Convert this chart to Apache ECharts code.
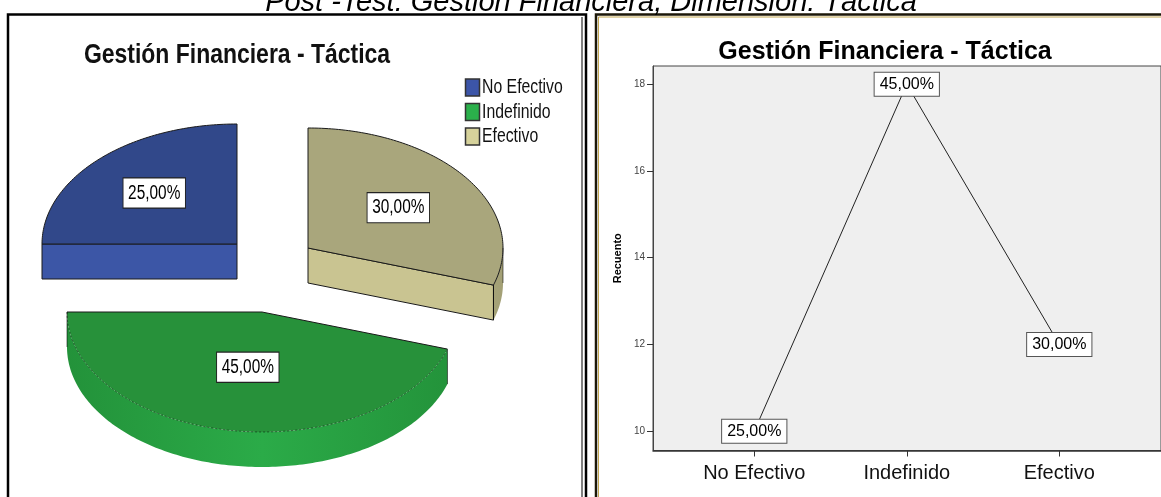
<!DOCTYPE html>
<html>
<head>
<meta charset="utf-8">
<script src="https://cdn.jsdelivr.net/npm/echarts@6/dist/echarts.min.js"></script>
<style>
  html, body { margin: 0; padding: 0; background: #fff; }
  #chart { width: 1161px; height: 497px; }
</style>
</head>
<body>
<div id="chart"></div>
<script>
// ---- data ----
const categories = ['No Efectivo', 'Indefinido', 'Efectivo'];
const counts = [10, 18, 12];
const yTickValues = [10, 12, 14, 16, 18];
const mainTitle = 'Post -Test: Gestión Financiera, Dimensión: Táctica';
const chartTitle = 'Gestión Financiera - Táctica';
const yAxisName = 'Recuento';

const total = counts.reduce((a, b) => a + b, 0);
const percents = counts.map(c => c / total * 100);
const fmtPct = p => p.toFixed(2).replace('.', ',') + '%';

// ---- styling ----
const FONT = "'Liberation Sans', Arial, Helvetica, sans-serif";
const slicePalette = [
  { top: '#31488a', face: '#3c56a6', wallEdge: '#34499a', wallMid: '#3c56a6', swatch: '#3c55a8' },
  { top: '#27913a', face: '#2aa545', wallEdge: '#23923a', wallMid: '#2bab48', swatch: '#2bb04b' },
  { top: '#a9a67c', face: '#c9c491', wallEdge: '#a3a076', wallMid: '#c9c491', swatch: '#d6d29b' }
];

// 3D pie geometry (layout only)
const pie = {
  cx: 270, cy: 265, rx: 195, ry: 120, depth: 35, startAngle: 90,
  explode: [[-33, -21], [-8, 47], [38, -17]]
};

const sliceStart = [];
{
  let a = pie.startAngle;
  percents.forEach(p => { sliceStart.push(a); a += p * 3.6; });
}

function rim(cx, cy, deg) {
  const r = deg * Math.PI / 180;
  return [cx + pie.rx * Math.cos(r), cy - pie.ry * Math.sin(r)];
}
function arc(cx, cy, a0, a1) {
  const n = Math.max(2, Math.ceil(Math.abs(a1 - a0)));
  const pts = [];
  for (let i = 0; i <= n; i++) pts.push(rim(cx, cy, a0 + (a1 - a0) * i / n));
  return pts;
}

function renderSlice(params, api) {
  const i = params.dataIndex;
  const val = api.value(0);
  const a0 = sliceStart[i];
  const a1 = a0 + val * 3.6;
  const mid = (a0 + a1) / 2;
  const cx = pie.cx + pie.explode[i][0];
  const cy = pie.cy + pie.explode[i][1];
  const d = pie.depth;
  const pal = slicePalette[i];
  const base = 10 + Math.round(-Math.sin(mid * Math.PI / 180) * 10) * 4;
  const children = [];
  const dark = '#1b1b1b';

  // outer wall (front half of the rim)
  [-360, 0, 360].forEach(off => {
    const lo = Math.max(a0, 180 + off), hi = Math.min(a1, 360 + off);
    if (hi > lo) {
      const topArc = arc(cx, cy, lo, hi);
      const botArc = arc(cx, cy + d, hi, lo);
      children.push({
        type: 'polygon', z2: base,
        shape: { points: topArc.concat(botArc) },
        style: {
          fill: {
            type: 'linear', global: true,
            x: cx - pie.rx, y: 0, x2: cx + pie.rx, y2: 0,
            colorStops: [
              { offset: 0, color: pal.wallEdge },
              { offset: 0.5, color: pal.wallMid },
              { offset: 1, color: pal.wallEdge }
            ]
          },
          stroke: null
        }
      });
      [lo, hi].forEach(a => {
        const p = rim(cx, cy, a);
        if (Math.abs(Math.sin(a * Math.PI / 180)) < 0.05 || a === a0 || a === a1) {
          children.push({
            type: 'line', z2: base + 2,
            shape: { x1: p[0], y1: p[1], x2: p[0], y2: p[1] + d },
            style: { stroke: 'rgba(0,0,0,0.55)', lineWidth: 1 }
          });
        }
      });
    }
  });

  // radial cut faces facing the viewer
  const faceAt = a => {
    const p = rim(cx, cy, a);
    children.push({
      type: 'polygon', z2: base,
      shape: { points: [[cx, cy], p, [p[0], p[1] + d], [cx, cy + d]] },
      style: { fill: pal.face, stroke: dark, lineWidth: 1 }
    });
  };
  if (Math.cos(a0 * Math.PI / 180) > 1e-6) faceAt(a0);
  if (Math.cos(a1 * Math.PI / 180) < -1e-6) faceAt(a1);

  // top face
  const topArc = arc(cx, cy, a0, a1);
  children.push({
    type: 'polygon', z2: base + 1,
    shape: { points: [[cx, cy]].concat(topArc) },
    style: { fill: pal.top, stroke: null }
  });
  // top outline: radial edges dark, rim edge dark unless it sits over the wall
  children.push({
    type: 'polyline', z2: base + 2,
    shape: { points: [topArc[topArc.length - 1], [cx, cy], topArc[0]] },
    style: { stroke: dark, lineWidth: 1, fill: null }
  });
  const frontRim = Math.sin(mid * Math.PI / 180) < -0.5;
  children.push({
    type: 'polyline', z2: base + 2,
    shape: { points: topArc },
    style: frontRim
      ? { stroke: 'rgba(0,0,0,0.45)', lineWidth: 1, lineDash: [2, 2], fill: null }
      : { stroke: dark, lineWidth: 1, fill: null }
  });

  // value label at the sector centroid
  const half = (a1 - a0) / 2 * Math.PI / 180;
  const rho = 2 * Math.sin(half) / (3 * half);
  const lp = [cx + pie.rx * rho * Math.cos(mid * Math.PI / 180),
              cy - pie.ry * rho * Math.sin(mid * Math.PI / 180)];
  children.push({
    type: 'text', z2: 200, x: lp[0], y: lp[1], scaleX: 0.77,
    style: {
      text: fmtPct(val), x: 0, y: 0, align: 'center', verticalAlign: 'middle',
      fontFamily: FONT, fontSize: 20, fill: '#000',
      backgroundColor: '#fff', borderColor: '#222', borderWidth: 1.2,
      padding: [5, 6, 4, 6]
    }
  });
  return { type: 'group', children };
}

// legend built from the categories
const legendGraphics = [];
categories.forEach((name, i) => {
  const cy = 87.5 + 24.5 * i;
  legendGraphics.push({
    type: 'rect', shape: { x: 465.5, y: cy - 8.5, width: 14, height: 17 },
    style: { fill: slicePalette[i].swatch, stroke: '#333', lineWidth: 1.5 }
  });
  legendGraphics.push({
    type: 'text', x: 482, y: cy, scaleX: 0.79,
    style: { text: name, x: 0, y: 0, align: 'left', verticalAlign: 'middle',
             fontFamily: FONT, fontSize: 20, fill: '#111' }
  });
});

const chart = echarts.init(document.getElementById('chart'), null, { renderer: 'canvas' });

chart.setOption({
  animation: false,
  backgroundColor: '#fff',
  graphic: [
    // panel frames
    { type: 'rect', shape: { x: 8, y: 14.5, width: 578, height: 520 },
      style: { fill: null, stroke: '#000', lineWidth: 2.5 }, z: -1 },
    { type: 'line', shape: { x1: 582, y1: 17, x2: 582, y2: 497 },
      style: { stroke: '#000', lineWidth: 1 }, z: -1 },
    { type: 'rect', shape: { x: 596, y: 14.5, width: 600, height: 520 },
      style: { fill: null, stroke: '#1c1708', lineWidth: 2.5 }, z: -1 },
    { type: 'rect', shape: { x: 598.5, y: 17, width: 600, height: 520 },
      style: { fill: null, stroke: '#c2a650', lineWidth: 1 }, z: -1 },
    // page heading
    { type: 'text', x: 591, y: 3, style: {
        text: mainTitle, x: 0, y: 0, align: 'center', verticalAlign: 'middle',
        fontFamily: FONT, fontSize: 29, fontStyle: 'italic', fill: '#000' } },
    // pie heading
    { type: 'text', x: 237, y: 55, scaleX: 0.82, style: {
        text: chartTitle, x: 0, y: 0, align: 'center', verticalAlign: 'middle',
        fontFamily: FONT, fontSize: 28, fontWeight: 'bold', fill: '#111' } },
    // line chart heading
    { type: 'text', x: 885, y: 52.5, style: {
        text: chartTitle, x: 0, y: 0, align: 'center', verticalAlign: 'middle',
        fontFamily: FONT, fontSize: 25, fontWeight: 'bold', fill: '#000' } }
  ].concat(legendGraphics),
  grid: {
    left: 653, top: 66, right: -5, bottom: 46.5,
    show: true, backgroundColor: '#efefef', borderColor: '#444', borderWidth: 1
  },
  xAxis: {
    type: 'value', min: -0.664, max: 2.667,
    splitLine: { show: false },
    axisLine: { show: true, onZero: false, lineStyle: { color: '#333', width: 1.5 } },
    axisTick: { show: true, length: 6, customValues: [0, 1, 2], lineStyle: { color: '#333' } },
    axisLabel: {
      customValues: [0, 1, 2], formatter: v => categories[v] || '',
      fontFamily: FONT, fontSize: 20, color: '#111', margin: 13
    }
  },
  yAxis: {
    type: 'value', min: 9.555, max: 18.42,
    name: yAxisName, nameLocation: 'middle', nameGap: 30,
    nameTextStyle: { fontFamily: FONT, fontSize: 11, fontWeight: 'bold', color: '#000' },
    splitLine: { show: false },
    axisLine: { show: true, onZero: false, lineStyle: { color: '#444', width: 1 } },
    axisTick: { show: true, length: 6, customValues: yTickValues, lineStyle: { color: '#333' } },
    axisLabel: { customValues: yTickValues, fontFamily: FONT, fontSize: 10, color: '#444', margin: 8 }
  },
  series: [
    {
      type: 'custom', coordinateSystem: 'none', silent: true,
      renderItem: renderSlice,
      data: percents.map((p, i) => ({ name: categories[i], value: [p] }))
    },
    {
      type: 'line', silent: true,
      data: counts.map((c, i) => [i, c]),
      symbol: 'rect', symbolSize: 1,
      itemStyle: { color: 'rgba(0,0,0,0)' },
      lineStyle: { color: '#222', width: 1 },
      label: {
        show: true, position: 'inside',
        formatter: p => fmtPct(percents[p.dataIndex]),
        fontFamily: FONT, fontSize: 16, color: '#000',
        backgroundColor: '#fff', borderColor: '#555', borderWidth: 1,
        padding: [4, 5, 3, 5]
      },
      z: 3
    }
  ]
});
</script>
</body>
</html>
